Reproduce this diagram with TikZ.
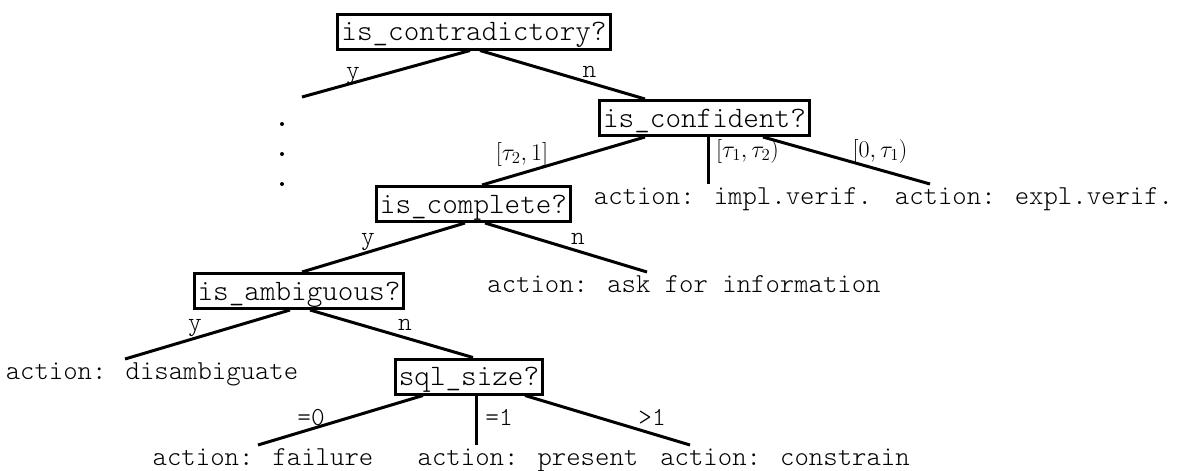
\RequirePackage{fix-cm}
\documentclass[tikz,border=0pt]{standalone}
\usepackage{fontspec}
\newfontfamily\lmlight{Latin Modern Mono Light}
\newcommand\myboxfont{\lmlight\fontsize{29.7}{34}\selectfont}
\newcommand\myactfont{\lmlight\fontsize{27.4}{32}\selectfont}
\newcommand\mylabfont{\lmlight\fontsize{26}{30}\selectfont}
\newcommand\mymathfont{\fontsize{24}{28}\selectfont}
\begin{document}
\begin{tikzpicture}[x=1pt,y=-1pt,
  q/.style={draw, line width=3pt, font=\myboxfont, inner xsep=3.5pt, inner ysep=0pt,
            minimum height=35pt, text height=21pt, text depth=3pt},
  leaf/.style={font=\myactfont, anchor=base, inner sep=0pt, outer sep=0pt, text height=20pt},
  elab/.style={font=\mylabfont, anchor=base, inner sep=0pt},
  mlab/.style={font=\mymathfont, inner sep=0pt},
  br/.style={line width=3pt}]
\useasboundingbox (0,0) rectangle (1178,471);
% decision nodes
\node[q] (contra) at (474,31.5) {is\_contradictory?};
\node[q] (conf) at (704.5,118) {is\_confident?};
\node[q] (compl) at (473.5,204) {is\_complete?};
\node[q] (ambig) at (299,291) {is\_ambiguous?};
\node[q] (sql) at (469,376.5) {sql\_size?};
% leaves
\node[leaf] (impl) at (733,204) {action: impl.verif.};
\node[leaf] (expl) at (1034,204) {action: expl.verif.};
\node[leaf] (ask) at (684,292) {action: ask for information};
\node[leaf] (disamb) at (152,379) {action: disambiguate};
\node[leaf] (fail) at (263,465) {action: failure};
\node[leaf] (pres) at (528,465) {action: present};
\node[leaf] (constr) at (785,465) {action: constrain};
\coordinate (ystub) at (302,97);
\coordinate (dots) at (282,154);
\fill ([yshift=30pt]dots) circle (2pt) (dots) circle (2pt) ([yshift=-30pt]dots) circle (2pt);
% connectors
\draw[br] ([xshift=-4pt]contra.south) -- (ystub);
\draw[br] ([xshift=6pt]contra.south) -- ([xshift=-59.5pt]conf.north);
\draw[br] ([xshift=-59.5pt]conf.south) -- ([xshift=8.5pt]compl.north);
\draw[br] ([xshift=3.5pt]conf.south) -- ([xshift=-25pt]impl.north);
\draw[br] ([xshift=58.5pt]conf.south) -- ([xshift=-104pt]expl.north);
\draw[br] ([xshift=-8.5pt]compl.south) -- ([xshift=3pt]ambig.north);
\draw[br] ([xshift=11.5pt]compl.south) -- ([xshift=-37pt]ask.north);
\draw[br] ([xshift=-9pt]ambig.south) -- ([xshift=-27pt]disamb.north);
\draw[br] ([xshift=11pt]ambig.south) -- ([xshift=4pt]sql.north);
\draw[br] ([xshift=-46pt]sql.south) -- ([xshift=-5pt]fail.north);
\draw[br] ([xshift=7pt]sql.south) -- ([xshift=-52pt]pres.north);
\draw[br] ([xshift=56pt]sql.south) -- ([xshift=-95pt]constr.north);
% edge labels
\node[elab] (l1) at (353,78) {y};
\node[elab] (l2) at (589.5,77) {n};
\node[mlab] (l3) at (522,154) {$[\tau_2,1]$};
\node[mlab] (l4) at (747.5,151) {$[\tau_1,\tau_2)$};
\node[mlab] (l5) at (880,151) {$[0,\tau_1)$};
\node[elab] (l6) at (368,244) {y};
\node[elab] (l7) at (578,244) {n};
\node[elab] (l8) at (195,330) {y};
\node[elab] (l9) at (405,330) {n};
\node[elab] (l10) at (311,425) {=0};
\node[elab] (l11) at (499,425) {=1};
\node[elab] (l12) at (652,425) {>1};
\end{tikzpicture}
\end{document}
